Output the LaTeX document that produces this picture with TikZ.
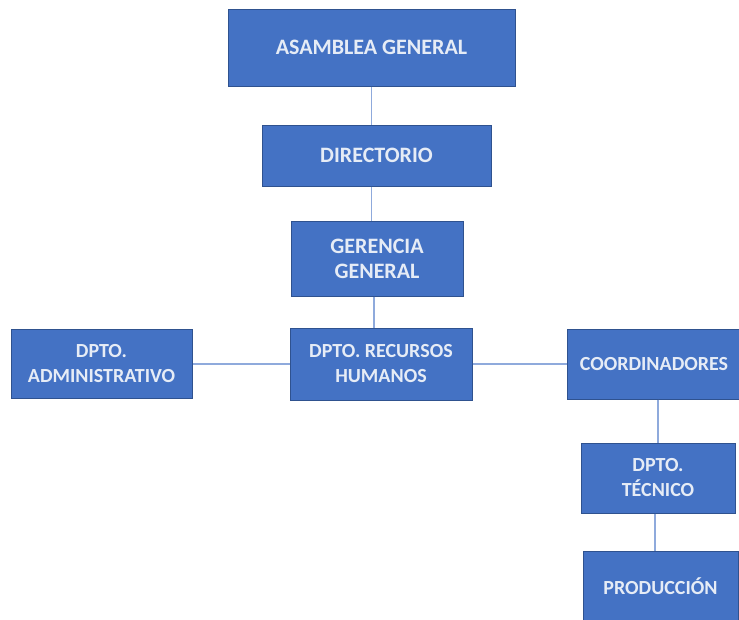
\documentclass[tikz,border=0pt]{standalone}
\usepackage{fontspec}
\setmainfont{Carlito}
\definecolor{boxfill}{HTML}{4472C4}
\definecolor{boxline}{HTML}{2F528F}
\definecolor{linkline}{HTML}{8FAADC}
\definecolor{boxtext}{HTML}{E6ECF6}

\begin{document}
\begin{tikzpicture}[x=1pt,y=1pt]
\tikzstyle{every node}+=[inner sep=0pt]
\tikzstyle{unit}=[draw=boxline, line width=1pt, fill=boxfill, text=boxtext,
  font=\fontsize{20}{25}\selectfont\bfseries, align=center]
\tikzstyle{bigunit}=[unit, font=\fontsize{22}{25}\selectfont\bfseries]
\tikzstyle{link}=[draw=linkline, line width=1.8pt]
\useasboundingbox (0,0) rectangle (739,-619);
\node [bigunit, minimum width=287, minimum height=77] (asamblea) at (371.5,-47.5) {ASAMBLEA GENERAL};
\node [bigunit, minimum width=229, minimum height=61] (directorio) at (376.5,-155.5) {DIRECTORIO};
\node [bigunit, minimum width=172, minimum height=75] (gerencia) at (377,-258.5) {GERENCIA\\GENERAL};
\node [unit, minimum width=182, minimum height=72] (rrhh) at (381,-364) {DPTO. RECURSOS\\HUMANOS};
\node [unit, minimum width=181, minimum height=69] (admin) at (101.5,-364) {DPTO.\\ADMINISTRATIVO};
\node [unit, minimum width=174, minimum height=70] (coord) at (654,-364) {COORDINADORES};
\node [unit, minimum width=154, minimum height=70] (tecnico) at (658,-478) {DPTO.\\TÉCNICO};
\node [unit, minimum width=155, minimum height=71] (prod) at (660.5,-586.5) {PRODUCCIÓN};
\draw [link] (asamblea) -- (asamblea |- directorio.north);
\draw [link] (directorio.south -| asamblea) -- (gerencia.north -| asamblea);
\draw [link] (gerencia.south -| 374,0) -- (rrhh.north -| 374,0);
\draw [link] (rrhh) -- (admin);
\draw [link] (rrhh) -- (coord);
\draw [link] (coord.south -| tecnico) -- (tecnico);
\draw [link] (tecnico.south -| 655,0) -- (prod.north -| 655,0);
\end{tikzpicture}
\end{document}
